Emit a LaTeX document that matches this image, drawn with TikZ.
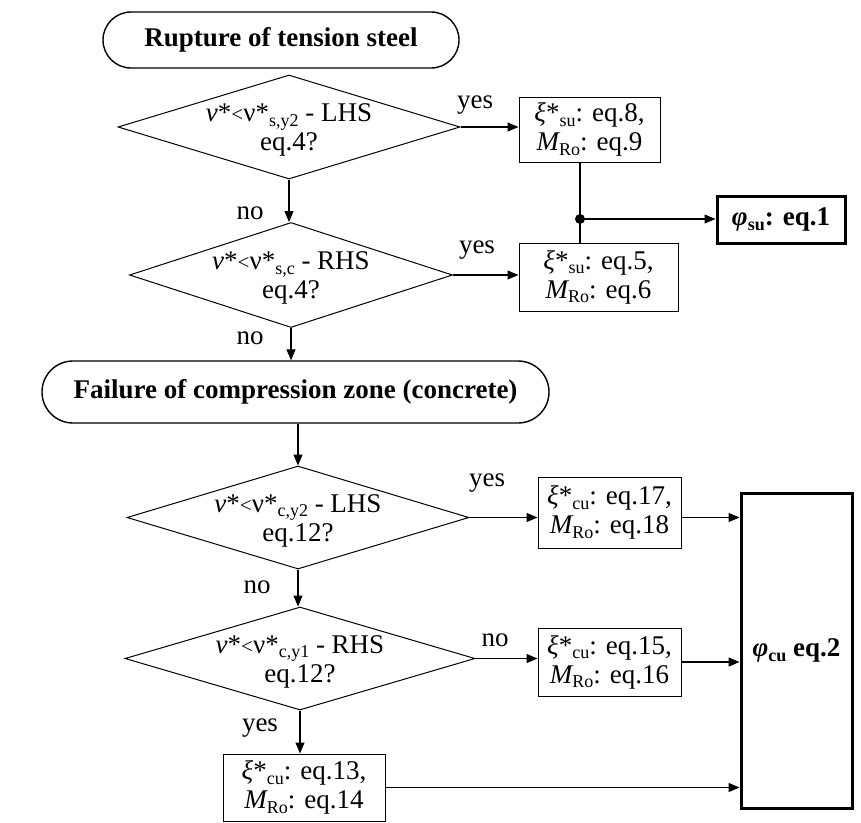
\documentclass[tikz,border=0pt]{standalone}
\usepackage{fontspec}
\setmainfont{Liberation Serif}
\usetikzlibrary{shapes.geometric,shapes.misc,arrows.meta}
\newcommand\sbs[1]{\raisebox{-0.18em}{\fontsize{18}{18}\selectfont #1}}
\newcommand\lsm{{\fontsize{21}{21}\selectfont <}}
\begin{document}
\begin{tikzpicture}[x=1pt,y=-1pt,
  txt/.style={font=\fontsize{27}{29}\selectfont},
  term/.style={rounded rectangle, draw, line width=1.4pt, inner sep=0pt,
    font=\bfseries\fontsize{27}{30}\selectfont},
  dec/.style={diamond, draw, line width=1pt, inner sep=0pt},
  dtext/.style={txt, align=center, inner sep=0pt},
  box/.style={rectangle, draw, line width=1pt, inner sep=0pt, align=center, txt},
  thickbox/.style={box, line width=3pt},
  arr/.style={-{Triangle[length=11pt,width=9pt]}, line width=1.1pt},
  lbl/.style={txt, inner sep=0pt}]
\useasboundingbox (0,0) rectangle (861,822);
% top part
\node[term, minimum width=356pt, minimum height=56pt] (t1) at (281,40) {Rupture of tension steel};
\node[dec, minimum width=342pt, minimum height=104pt] (d1) at (289,127) {};
\node[dtext] (d1t) at (289,130) {{\itshape ν}*\lsm ν*\sbs{s,y2} - LHS\\eq.4?};
\node[dec, minimum width=323pt, minimum height=105pt] (d2) at (291,275) {};
\node[dtext] (d2t) at (291,278) {{\itshape ν}*\lsm ν*\sbs{s,c} - RHS\\eq.4?};
\node[box, minimum width=141pt, minimum height=65pt] (b1) at (589.5,129.5) {{\itshape ξ}*\sbs{su}: eq.8,\\{\itshape M}\sbs{Ro}: eq.9};
\node[box, minimum width=159pt, minimum height=68pt] (b2) at (598.5,277) {{\itshape ξ}*\sbs{su}: eq.5,\\{\itshape M}\sbs{Ro}: eq.6};
\node[thickbox, minimum width=128pt, minimum height=47pt, font=\bfseries\fontsize{27}{29}\selectfont] (p1) at (781,219.5) {{\itshape φ}\sbs{\bfseries su}: eq.1};
\coordinate (j) at (580,219);
% bottom part
\node[term, minimum width=507pt, minimum height=62pt] (t2) at (295.5,392) {Failure of compression zone (concrete)};
\node[dec, minimum width=342pt, minimum height=103pt] (d3) at (298,517.5) {};
\node[dtext] (d3t) at (298,520.5) {{\itshape ν}*\lsm ν*\sbs{c,y2} - LHS\\eq.12?};
\node[dec, minimum width=350pt, minimum height=103pt] (d4) at (300,658.5) {};
\node[dtext] (d4t) at (300,661.5) {{\itshape ν}*\lsm ν*\sbs{c,y1} - RHS\\eq.12?};
\node[box, minimum width=143pt, minimum height=71pt] (b3) at (609.5,512.5) {{\itshape ξ}*\sbs{cu}: eq.17,\\{\itshape M}\sbs{Ro}: eq.18};
\node[box, minimum width=143pt, minimum height=68pt] (b4) at (609.5,662) {{\itshape ξ}*\sbs{cu}: eq.15,\\{\itshape M}\sbs{Ro}: eq.16};
\node[box, minimum width=162pt, minimum height=67pt] (b5) at (304,787.5) {{\itshape ξ}*\sbs{cu}: eq.13,\\{\itshape M}\sbs{Ro}: eq.14};
\node[thickbox, minimum width=111pt, minimum height=315pt, font=\bfseries\fontsize{27}{29}\selectfont] (B) at (796.5,650.5) {{\itshape φ}\sbs{\bfseries cu} eq.2};
% labels
\node[lbl] (l1) at (475,105) {yes};
\node[lbl] (l2) at (477,250) {yes};
\node[lbl] (l3) at (250,213) {no};
\node[lbl] (l4) at (250,338) {no};
\node[lbl] (l5) at (487,483) {yes};
\node[lbl] (l6) at (257,587) {no};
\node[lbl] (l7) at (495,640) {no};
\node[lbl] (l8) at (260,728) {yes};
% connectors
\draw[arr] (d1.east) -- (b1.west |- d1.east);
\draw[arr] (d2.east) -- (b2.west |- d2.east);
\draw[arr] (d1.south) -- (d1.south |- d2.north);
\draw[arr] (d2.south) -- (d2.south |- t2.north);
\draw[line width=1.1pt] (b1.south -| j) -- (b2.north -| j);
\fill (j) circle (5pt);
\draw[arr] (j) -- (p1.west |- j);
\draw[arr] (t2.south -| d3.north) -- (d3.north);
\draw[arr] (d3.east) -- (b3.west |- d3.east);
\draw[arr] (d3.south) -- (d3.south |- d4.north);
\draw[arr] (d4.east) -- (b4.west |- d4.east);
\draw[arr] (d4.south) -- (d4.south |- b5.north);
\draw[arr] (b3.east |- d3.east) -- (B.west |- d3.east);
\draw[arr] (b4.east) -- (B.west |- b4.east);
\draw[arr] (b5.east) -- (B.west |- b5.east);
\end{tikzpicture}
\end{document}
